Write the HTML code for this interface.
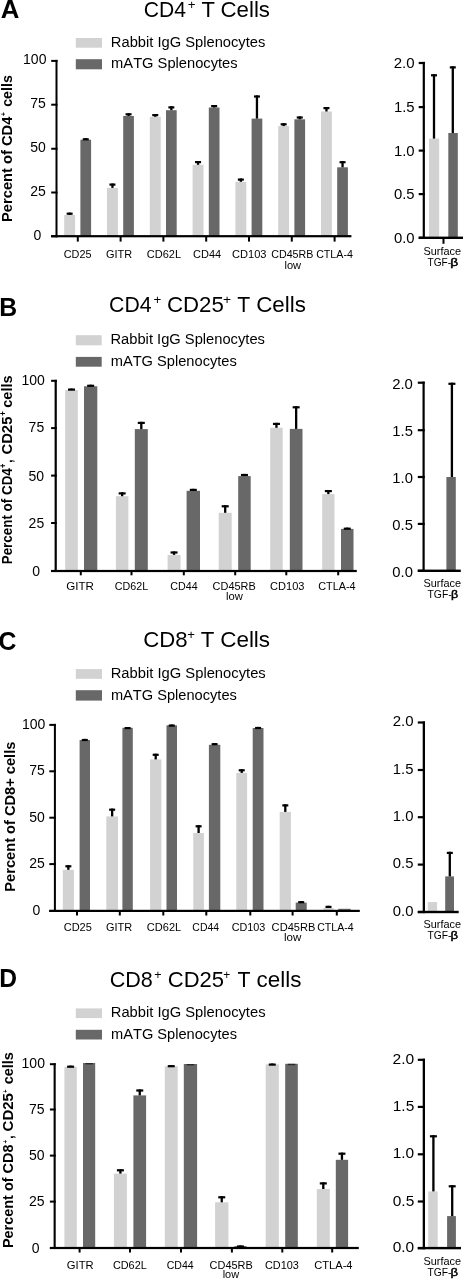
<!DOCTYPE html>
<html><head><meta charset="utf-8"><style>
html,body{margin:0;padding:0;background:#fff;}
svg{display:block;will-change:transform;}
text{font-family:"Liberation Sans",sans-serif;fill:#000;font-kerning:none;}
</style></head><body>
<svg width="463" height="1280" viewBox="0 0 463 1280">
<rect width="463" height="1280" fill="#fff"/>
<rect x="75.80" y="38.00" width="26.20" height="9.70" fill="#d2d2d2"/>
<rect x="75.80" y="59.20" width="26.20" height="10.10" fill="#686868"/>
<rect x="64.20" y="215.00" width="10.90" height="21.20" fill="#d2d2d2"/>
<rect x="80.40" y="139.70" width="10.70" height="96.50" fill="#686868"/>
<rect x="107.00" y="187.90" width="10.90" height="48.30" fill="#d2d2d2"/>
<rect x="123.20" y="116.00" width="10.70" height="120.20" fill="#686868"/>
<rect x="149.80" y="116.80" width="10.90" height="119.40" fill="#d2d2d2"/>
<rect x="166.00" y="110.20" width="10.70" height="126.00" fill="#686868"/>
<rect x="192.60" y="164.80" width="10.90" height="71.40" fill="#d2d2d2"/>
<rect x="208.80" y="107.50" width="10.70" height="128.70" fill="#686868"/>
<rect x="235.40" y="181.80" width="10.90" height="54.40" fill="#d2d2d2"/>
<rect x="251.60" y="118.60" width="10.70" height="117.60" fill="#686868"/>
<rect x="278.20" y="126.10" width="10.90" height="110.10" fill="#d2d2d2"/>
<rect x="294.40" y="119.30" width="10.70" height="116.90" fill="#686868"/>
<rect x="321.00" y="111.50" width="10.90" height="124.70" fill="#d2d2d2"/>
<rect x="337.20" y="167.30" width="10.70" height="68.90" fill="#686868"/>
<rect x="429.00" y="138.60" width="10.20" height="99.20" fill="#d2d2d2"/>
<rect x="448.30" y="133.00" width="9.50" height="104.80" fill="#686868"/>
<rect x="75.80" y="335.20" width="25.90" height="10.10" fill="#d2d2d2"/>
<rect x="75.80" y="356.90" width="25.90" height="9.80" fill="#686868"/>
<rect x="65.20" y="390.10" width="12.60" height="180.90" fill="#d2d2d2"/>
<rect x="84.00" y="386.30" width="13.30" height="184.70" fill="#686868"/>
<rect x="115.90" y="496.20" width="12.50" height="74.80" fill="#d2d2d2"/>
<rect x="134.80" y="429.10" width="13.00" height="141.90" fill="#686868"/>
<rect x="167.60" y="554.90" width="12.90" height="16.10" fill="#d2d2d2"/>
<rect x="186.60" y="490.80" width="13.40" height="80.20" fill="#686868"/>
<rect x="218.70" y="512.80" width="13.00" height="58.20" fill="#d2d2d2"/>
<rect x="238.20" y="476.10" width="12.50" height="94.90" fill="#686868"/>
<rect x="270.20" y="427.80" width="12.50" height="143.20" fill="#d2d2d2"/>
<rect x="289.80" y="428.90" width="12.70" height="142.10" fill="#686868"/>
<rect x="322.20" y="494.10" width="12.30" height="76.90" fill="#d2d2d2"/>
<rect x="341.00" y="528.90" width="12.50" height="42.10" fill="#686868"/>
<rect x="446.40" y="477.00" width="9.40" height="93.80" fill="#686868"/>
<rect x="75.80" y="669.10" width="26.20" height="9.70" fill="#d2d2d2"/>
<rect x="75.80" y="690.20" width="26.20" height="10.40" fill="#686868"/>
<rect x="62.80" y="869.80" width="11.10" height="41.10" fill="#d2d2d2"/>
<rect x="79.60" y="740.00" width="10.40" height="170.90" fill="#686868"/>
<rect x="106.30" y="816.40" width="11.70" height="94.50" fill="#d2d2d2"/>
<rect x="122.40" y="727.80" width="10.40" height="183.10" fill="#686868"/>
<rect x="150.10" y="759.40" width="11.20" height="151.50" fill="#d2d2d2"/>
<rect x="166.50" y="725.30" width="10.50" height="185.60" fill="#686868"/>
<rect x="193.30" y="833.00" width="10.60" height="77.90" fill="#d2d2d2"/>
<rect x="208.90" y="744.80" width="11.40" height="166.10" fill="#686868"/>
<rect x="236.30" y="772.90" width="10.80" height="138.00" fill="#d2d2d2"/>
<rect x="252.70" y="728.00" width="10.80" height="182.90" fill="#686868"/>
<rect x="279.70" y="811.90" width="11.20" height="99.00" fill="#d2d2d2"/>
<rect x="295.70" y="902.60" width="11.00" height="8.30" fill="#686868"/>
<rect x="323.40" y="908.00" width="10.20" height="2.90" fill="#d2d2d2"/>
<rect x="338.20" y="908.80" width="12.40" height="2.10" fill="#686868"/>
<rect x="427.80" y="902.10" width="9.30" height="9.90" fill="#d2d2d2"/>
<rect x="445.20" y="876.40" width="8.80" height="35.60" fill="#686868"/>
<rect x="75.80" y="1008.40" width="26.20" height="9.70" fill="#d2d2d2"/>
<rect x="75.80" y="1029.80" width="26.20" height="9.70" fill="#686868"/>
<rect x="64.40" y="1066.80" width="12.40" height="181.20" fill="#d2d2d2"/>
<rect x="83.00" y="1063.00" width="12.20" height="185.00" fill="#686868"/>
<rect x="113.90" y="1173.60" width="13.00" height="74.40" fill="#d2d2d2"/>
<rect x="133.40" y="1095.40" width="12.70" height="152.60" fill="#686868"/>
<rect x="164.80" y="1066.20" width="12.90" height="181.80" fill="#d2d2d2"/>
<rect x="183.80" y="1064.00" width="13.30" height="184.00" fill="#686868"/>
<rect x="215.10" y="1202.30" width="13.30" height="45.70" fill="#d2d2d2"/>
<rect x="234.30" y="1246.10" width="12.30" height="1.90" fill="#686868"/>
<rect x="265.70" y="1064.30" width="13.10" height="183.70" fill="#d2d2d2"/>
<rect x="285.20" y="1063.80" width="12.60" height="184.20" fill="#686868"/>
<rect x="316.80" y="1189.00" width="13.00" height="59.00" fill="#d2d2d2"/>
<rect x="335.80" y="1159.80" width="12.30" height="88.20" fill="#686868"/>
<rect x="428.20" y="1191.40" width="9.50" height="56.70" fill="#d2d2d2"/>
<rect x="447.10" y="1216.10" width="8.80" height="32.00" fill="#686868"/>
<text x="0.66" y="17.50" font-size="26" font-weight="700" textLength="18.62" lengthAdjust="spacingAndGlyphs">A</text>
<text x="143.83" y="16.50" font-size="22.0" textLength="42.19" lengthAdjust="spacingAndGlyphs">CD4</text>
<text x="187.75" y="8.90" font-size="12.0" textLength="7.81" lengthAdjust="spacingAndGlyphs">+</text>
<text x="201.51" y="16.50" font-size="22.0">T</text>
<text x="220.57" y="16.50" font-size="22.0" textLength="49.43" lengthAdjust="spacingAndGlyphs">Cells</text>
<text x="110.89" y="46.80" font-size="14.0" textLength="154.44" lengthAdjust="spacingAndGlyphs">Rabbit IgG Splenocytes</text>
<text x="111.12" y="68.40" font-size="14.0" textLength="126.51" lengthAdjust="spacingAndGlyphs">mATG Splenocytes</text>
<rect x="55.50" y="59.90" width="2.00" height="177.35" fill="#000"/>
<rect x="51.20" y="59.90" width="6.30" height="2.00" fill="#000"/>
<rect x="51.20" y="103.70" width="6.30" height="2.00" fill="#000"/>
<rect x="51.20" y="147.75" width="6.30" height="2.00" fill="#000"/>
<rect x="51.20" y="191.50" width="6.30" height="2.00" fill="#000"/>
<rect x="51.20" y="235.25" width="6.30" height="2.00" fill="#000"/>
<rect x="51.10" y="235.10" width="300.30" height="2.20" fill="#000"/>
<text x="23.09" y="63.70" font-size="14.0">100</text>
<text x="30.22" y="107.80" font-size="14.0">75</text>
<text x="30.27" y="151.70" font-size="14.0">50</text>
<text x="30.32" y="195.50" font-size="14.0">25</text>
<text x="33.56" y="239.80" font-size="14.0">0</text>
<rect x="76.80" y="236.20" width="2.00" height="5.40" fill="#000"/>
<rect x="119.60" y="236.20" width="2.00" height="5.40" fill="#000"/>
<rect x="162.40" y="236.20" width="2.00" height="5.40" fill="#000"/>
<rect x="205.20" y="236.20" width="2.00" height="5.40" fill="#000"/>
<rect x="248.00" y="236.20" width="2.00" height="5.40" fill="#000"/>
<rect x="290.80" y="236.20" width="2.00" height="5.40" fill="#000"/>
<rect x="333.60" y="236.20" width="2.00" height="5.40" fill="#000"/>
<rect x="68.50" y="212.60" width="2.30" height="2.40" fill="#000"/>
<rect x="66.65" y="212.60" width="6.00" height="2.20" fill="#000"/>
<rect x="84.60" y="138.20" width="2.30" height="1.50" fill="#000"/>
<rect x="82.75" y="138.20" width="6.00" height="2.20" fill="#000"/>
<rect x="111.30" y="183.50" width="2.30" height="4.40" fill="#000"/>
<rect x="109.45" y="183.50" width="6.00" height="2.20" fill="#000"/>
<rect x="127.40" y="113.20" width="2.30" height="2.80" fill="#000"/>
<rect x="125.55" y="113.20" width="6.00" height="2.20" fill="#000"/>
<rect x="154.10" y="114.00" width="2.30" height="2.80" fill="#000"/>
<rect x="152.25" y="114.00" width="6.00" height="2.20" fill="#000"/>
<rect x="170.20" y="106.30" width="2.30" height="3.90" fill="#000"/>
<rect x="168.35" y="106.30" width="6.00" height="2.20" fill="#000"/>
<rect x="196.90" y="161.00" width="2.30" height="3.80" fill="#000"/>
<rect x="195.05" y="161.00" width="6.00" height="2.20" fill="#000"/>
<rect x="213.00" y="105.00" width="2.30" height="2.50" fill="#000"/>
<rect x="211.15" y="105.00" width="6.00" height="2.20" fill="#000"/>
<rect x="239.70" y="178.50" width="2.30" height="3.30" fill="#000"/>
<rect x="237.85" y="178.50" width="6.00" height="2.20" fill="#000"/>
<rect x="255.80" y="95.40" width="2.30" height="23.20" fill="#000"/>
<rect x="253.95" y="95.40" width="6.00" height="2.20" fill="#000"/>
<rect x="282.50" y="123.20" width="2.30" height="2.90" fill="#000"/>
<rect x="280.65" y="123.20" width="6.00" height="2.20" fill="#000"/>
<rect x="298.60" y="116.40" width="2.30" height="2.90" fill="#000"/>
<rect x="296.75" y="116.40" width="6.00" height="2.20" fill="#000"/>
<rect x="325.30" y="107.00" width="2.30" height="4.50" fill="#000"/>
<rect x="323.45" y="107.00" width="6.00" height="2.20" fill="#000"/>
<rect x="341.40" y="161.10" width="2.30" height="6.20" fill="#000"/>
<rect x="339.55" y="161.10" width="6.00" height="2.20" fill="#000"/>
<text x="63.75" y="258.30" font-size="10.8" textLength="27.81" lengthAdjust="spacingAndGlyphs">CD25</text>
<text x="106.05" y="258.30" font-size="10.8" textLength="26.16" lengthAdjust="spacingAndGlyphs">GITR</text>
<text x="146.74" y="258.30" font-size="10.8" textLength="34.33" lengthAdjust="spacingAndGlyphs">CD62L</text>
<text x="193.14" y="258.30" font-size="10.8" textLength="28.08" lengthAdjust="spacingAndGlyphs">CD44</text>
<text x="232.04" y="258.30" font-size="10.8" textLength="34.45" lengthAdjust="spacingAndGlyphs">CD103</text>
<text x="271.26" y="258.30" font-size="10.8" textLength="42.10" lengthAdjust="spacingAndGlyphs">CD45RB</text>
<text x="316.16" y="258.30" font-size="10.8" textLength="36.75" lengthAdjust="spacingAndGlyphs">CTLA-4</text>
<text x="284.45" y="268.50" font-size="10.8" textLength="16.62" lengthAdjust="spacingAndGlyphs">low</text>
<text transform="translate(11.50,0) rotate(-90)" x="-221.98" y="0" font-size="14.5" font-weight="700" textLength="105.36" lengthAdjust="spacingAndGlyphs">Percent of CD4</text>
<text transform="translate(5.90,0) rotate(-90)" x="-115.88" y="0" font-size="8" font-weight="700" textLength="3.84" lengthAdjust="spacingAndGlyphs">+</text>
<text transform="translate(11.50,0) rotate(-90)" x="-106.86" y="0" font-size="14.5" font-weight="700" textLength="31.74" lengthAdjust="spacingAndGlyphs">cells</text>
<rect x="422.70" y="61.90" width="2.20" height="177.00" fill="#000"/>
<rect x="418.70" y="61.90" width="6.20" height="2.20" fill="#000"/>
<rect x="418.70" y="106.00" width="6.20" height="2.20" fill="#000"/>
<rect x="418.70" y="149.50" width="6.20" height="2.20" fill="#000"/>
<rect x="418.70" y="193.00" width="6.20" height="2.20" fill="#000"/>
<rect x="418.70" y="236.70" width="6.20" height="2.20" fill="#000"/>
<rect x="418.70" y="236.60" width="44.30" height="2.40" fill="#000"/>
<text x="393.75" y="68.30" font-size="14.8" textLength="20.84" lengthAdjust="spacingAndGlyphs">2.0</text>
<text x="393.96" y="112.40" font-size="14.8" textLength="20.66" lengthAdjust="spacingAndGlyphs">1.5</text>
<text x="393.92" y="155.90" font-size="14.8" textLength="20.66" lengthAdjust="spacingAndGlyphs">1.0</text>
<text x="393.96" y="199.40" font-size="14.8" textLength="20.66" lengthAdjust="spacingAndGlyphs">0.5</text>
<text x="393.92" y="243.10" font-size="14.8" textLength="20.66" lengthAdjust="spacingAndGlyphs">0.0</text>
<rect x="432.85" y="74.20" width="2.30" height="64.40" fill="#000"/>
<rect x="431.00" y="74.20" width="6.00" height="2.20" fill="#000"/>
<rect x="451.65" y="66.30" width="2.30" height="66.70" fill="#000"/>
<rect x="449.80" y="66.30" width="6.00" height="2.20" fill="#000"/>
<rect x="442.50" y="237.80" width="2.00" height="6.00" fill="#000"/>
<text x="423.50" y="255.00" font-size="10.5" textLength="37.58" lengthAdjust="spacingAndGlyphs">Surface</text>
<text x="427.47" y="265.60" font-size="10.5" textLength="23.58" lengthAdjust="spacingAndGlyphs">TGF-</text>
<text x="450.25" y="265.60" font-size="10.5" textLength="7.89" lengthAdjust="spacingAndGlyphs" stroke="#000" stroke-width="0.45">β</text>
<text x="-0.76" y="315.50" font-size="26" font-weight="700" textLength="17.88" lengthAdjust="spacingAndGlyphs">B</text>
<text x="109.12" y="311.70" font-size="22.0" textLength="42.50" lengthAdjust="spacingAndGlyphs">CD4</text>
<text x="153.45" y="304.00" font-size="12.0" textLength="7.81" lengthAdjust="spacingAndGlyphs">+</text>
<text x="166.97" y="311.70" font-size="22.0" textLength="56.86" lengthAdjust="spacingAndGlyphs">CD25</text>
<text x="223.12" y="304.00" font-size="12.0" textLength="8.17" lengthAdjust="spacingAndGlyphs">+</text>
<text x="237.32" y="311.70" font-size="22.0" textLength="12.96" lengthAdjust="spacingAndGlyphs">T</text>
<text x="256.16" y="311.70" font-size="22.0" textLength="49.75" lengthAdjust="spacingAndGlyphs">Cells</text>
<text x="110.49" y="344.00" font-size="14.0" textLength="154.44" lengthAdjust="spacingAndGlyphs">Rabbit IgG Splenocytes</text>
<text x="110.73" y="365.60" font-size="14.0" textLength="126.10" lengthAdjust="spacingAndGlyphs">mATG Splenocytes</text>
<rect x="54.60" y="379.80" width="2.20" height="192.20" fill="#000"/>
<rect x="51.10" y="379.80" width="5.70" height="2.00" fill="#000"/>
<rect x="51.10" y="427.10" width="5.70" height="2.00" fill="#000"/>
<rect x="51.10" y="474.60" width="5.70" height="2.00" fill="#000"/>
<rect x="51.10" y="522.00" width="5.70" height="2.00" fill="#000"/>
<rect x="51.10" y="570.00" width="5.70" height="2.00" fill="#000"/>
<rect x="51.10" y="569.90" width="305.70" height="2.20" fill="#000"/>
<text x="21.39" y="385.20" font-size="14.0">100</text>
<text x="28.62" y="432.40" font-size="14.0">75</text>
<text x="28.57" y="480.70" font-size="14.0">50</text>
<text x="28.62" y="527.80" font-size="14.0">25</text>
<text x="32.26" y="575.50" font-size="14.0">0</text>
<rect x="70.35" y="388.50" width="2.30" height="1.60" fill="#000"/>
<rect x="68.00" y="388.50" width="7.00" height="2.20" fill="#000"/>
<rect x="89.50" y="384.70" width="2.30" height="1.60" fill="#000"/>
<rect x="87.15" y="384.70" width="7.00" height="2.20" fill="#000"/>
<rect x="121.00" y="492.30" width="2.30" height="3.90" fill="#000"/>
<rect x="118.65" y="492.30" width="7.00" height="2.20" fill="#000"/>
<rect x="140.15" y="421.80" width="2.30" height="7.30" fill="#000"/>
<rect x="137.80" y="421.80" width="7.00" height="2.20" fill="#000"/>
<rect x="172.90" y="551.40" width="2.30" height="3.50" fill="#000"/>
<rect x="170.55" y="551.40" width="7.00" height="2.20" fill="#000"/>
<rect x="192.15" y="488.80" width="2.30" height="2.00" fill="#000"/>
<rect x="189.80" y="488.80" width="7.00" height="2.20" fill="#000"/>
<rect x="224.05" y="505.20" width="2.30" height="7.60" fill="#000"/>
<rect x="221.70" y="505.20" width="7.00" height="2.20" fill="#000"/>
<rect x="243.30" y="473.90" width="2.30" height="2.20" fill="#000"/>
<rect x="240.95" y="473.90" width="7.00" height="2.20" fill="#000"/>
<rect x="275.30" y="422.80" width="2.30" height="5.00" fill="#000"/>
<rect x="272.95" y="422.80" width="7.00" height="2.20" fill="#000"/>
<rect x="295.00" y="406.20" width="2.30" height="22.70" fill="#000"/>
<rect x="292.65" y="406.20" width="7.00" height="2.20" fill="#000"/>
<rect x="327.20" y="490.00" width="2.30" height="4.10" fill="#000"/>
<rect x="324.85" y="490.00" width="7.00" height="2.20" fill="#000"/>
<rect x="346.10" y="527.60" width="2.30" height="1.30" fill="#000"/>
<rect x="343.75" y="527.60" width="7.00" height="2.20" fill="#000"/>
<rect x="79.80" y="571.00" width="2.00" height="4.30" fill="#000"/>
<rect x="130.50" y="571.00" width="2.00" height="4.30" fill="#000"/>
<rect x="182.80" y="571.00" width="2.00" height="4.30" fill="#000"/>
<rect x="234.20" y="571.00" width="2.00" height="4.30" fill="#000"/>
<rect x="285.30" y="571.00" width="2.00" height="4.30" fill="#000"/>
<rect x="337.20" y="571.00" width="2.00" height="4.30" fill="#000"/>
<text x="66.22" y="589.90" font-size="10.8" textLength="27.72" lengthAdjust="spacingAndGlyphs">GITR</text>
<text x="114.86" y="589.90" font-size="10.8" textLength="33.40" lengthAdjust="spacingAndGlyphs">CD62L</text>
<text x="170.26" y="589.90" font-size="10.8" textLength="27.36" lengthAdjust="spacingAndGlyphs">CD44</text>
<text x="212.64" y="589.90" font-size="10.8" textLength="43.13" lengthAdjust="spacingAndGlyphs">CD45RB</text>
<text x="270.14" y="589.90" font-size="10.8" textLength="34.35" lengthAdjust="spacingAndGlyphs">CD103</text>
<text x="318.25" y="589.90" font-size="10.8" textLength="37.37" lengthAdjust="spacingAndGlyphs">CTLA-4</text>
<text x="226.04" y="600.40" font-size="10.8" textLength="16.83" lengthAdjust="spacingAndGlyphs">low</text>
<text transform="translate(11.60,0) rotate(-90)" x="-564.30" y="0" font-size="14.5" font-weight="700" textLength="96.07" lengthAdjust="spacingAndGlyphs">Percent of CD4</text>
<text transform="translate(6.40,0) rotate(-90)" x="-468.02" y="0" font-size="9" font-weight="700" textLength="4.43" lengthAdjust="spacingAndGlyphs">+</text>
<text transform="translate(11.60,0) rotate(-90)" x="-462.81" y="0" font-size="14.5" font-weight="700" textLength="3.30" lengthAdjust="spacingAndGlyphs">,</text>
<text transform="translate(11.60,0) rotate(-90)" x="-454.61" y="0" font-size="14.5" font-weight="700" textLength="38.02" lengthAdjust="spacingAndGlyphs">CD25</text>
<text transform="translate(6.40,0) rotate(-90)" x="-415.73" y="0" font-size="9" font-weight="700" textLength="4.54" lengthAdjust="spacingAndGlyphs">+</text>
<text transform="translate(11.60,0) rotate(-90)" x="-407.77" y="0" font-size="14.5" font-weight="700" textLength="32.37" lengthAdjust="spacingAndGlyphs">cells</text>
<rect x="422.50" y="381.60" width="2.20" height="190.30" fill="#000"/>
<rect x="417.80" y="381.60" width="6.90" height="2.20" fill="#000"/>
<rect x="417.80" y="429.10" width="6.90" height="2.20" fill="#000"/>
<rect x="417.80" y="475.90" width="6.90" height="2.20" fill="#000"/>
<rect x="417.80" y="522.80" width="6.90" height="2.20" fill="#000"/>
<rect x="417.80" y="569.70" width="6.90" height="2.20" fill="#000"/>
<rect x="417.80" y="569.60" width="43.00" height="2.40" fill="#000"/>
<text x="392.15" y="388.50" font-size="14.8" textLength="20.73" lengthAdjust="spacingAndGlyphs">2.0</text>
<text x="392.37" y="436.00" font-size="14.8">1.5</text>
<text x="392.32" y="482.80" font-size="14.8">1.0</text>
<text x="392.37" y="529.70" font-size="14.8">0.5</text>
<text x="392.32" y="576.60" font-size="14.8">0.0</text>
<rect x="450.75" y="382.70" width="2.30" height="94.30" fill="#000"/>
<rect x="448.40" y="382.70" width="7.00" height="2.20" fill="#000"/>
<text x="423.50" y="587.00" font-size="10.5" textLength="37.58" lengthAdjust="spacingAndGlyphs">Surface</text>
<text x="427.47" y="598.10" font-size="10.5" textLength="24.30" lengthAdjust="spacingAndGlyphs">TGF-</text>
<text x="450.94" y="598.10" font-size="10.5" textLength="7.15" lengthAdjust="spacingAndGlyphs" stroke="#000" stroke-width="0.45">β</text>
<text x="-1.62" y="649.80" font-size="26" font-weight="700" textLength="17.89" lengthAdjust="spacingAndGlyphs">C</text>
<text x="143.17" y="646.70" font-size="22.0" textLength="44.39" lengthAdjust="spacingAndGlyphs">CD8</text>
<text x="187.36" y="638.70" font-size="12.0" textLength="7.69" lengthAdjust="spacingAndGlyphs">+</text>
<text x="200.70" y="646.70" font-size="22.0" textLength="13.61" lengthAdjust="spacingAndGlyphs">T</text>
<text x="220.16" y="646.70" font-size="22.0" textLength="49.95" lengthAdjust="spacingAndGlyphs">Cells</text>
<text x="110.69" y="678.20" font-size="14.0" textLength="155.04" lengthAdjust="spacingAndGlyphs">Rabbit IgG Splenocytes</text>
<text x="110.93" y="699.60" font-size="14.0" textLength="125.90" lengthAdjust="spacingAndGlyphs">mATG Splenocytes</text>
<rect x="53.90" y="723.90" width="2.00" height="188.00" fill="#000"/>
<rect x="49.30" y="723.90" width="6.60" height="2.00" fill="#000"/>
<rect x="49.30" y="770.30" width="6.60" height="2.00" fill="#000"/>
<rect x="49.30" y="816.70" width="6.60" height="2.00" fill="#000"/>
<rect x="49.30" y="863.10" width="6.60" height="2.00" fill="#000"/>
<rect x="49.30" y="909.90" width="6.60" height="2.00" fill="#000"/>
<rect x="49.30" y="909.80" width="310.50" height="2.20" fill="#000"/>
<text x="21.89" y="728.60" font-size="14.0">100</text>
<text x="29.32" y="775.20" font-size="14.0">75</text>
<text x="29.27" y="821.60" font-size="14.0">50</text>
<text x="29.32" y="868.00" font-size="14.0">25</text>
<text x="32.56" y="914.80" font-size="14.0">0</text>
<rect x="67.20" y="865.20" width="2.30" height="4.60" fill="#000"/>
<rect x="65.35" y="865.20" width="6.00" height="2.20" fill="#000"/>
<rect x="83.65" y="738.90" width="2.30" height="1.10" fill="#000"/>
<rect x="81.80" y="738.90" width="6.00" height="2.20" fill="#000"/>
<rect x="111.00" y="808.60" width="2.30" height="7.80" fill="#000"/>
<rect x="109.15" y="808.60" width="6.00" height="2.20" fill="#000"/>
<rect x="126.45" y="727.00" width="2.30" height="0.80" fill="#000"/>
<rect x="124.60" y="727.00" width="6.00" height="2.20" fill="#000"/>
<rect x="154.55" y="753.70" width="2.30" height="5.70" fill="#000"/>
<rect x="152.70" y="753.70" width="6.00" height="2.20" fill="#000"/>
<rect x="170.60" y="724.50" width="2.30" height="0.80" fill="#000"/>
<rect x="168.75" y="724.50" width="6.00" height="2.20" fill="#000"/>
<rect x="197.45" y="825.20" width="2.30" height="7.80" fill="#000"/>
<rect x="195.60" y="825.20" width="6.00" height="2.20" fill="#000"/>
<rect x="213.45" y="743.10" width="2.30" height="1.70" fill="#000"/>
<rect x="211.60" y="743.10" width="6.00" height="2.20" fill="#000"/>
<rect x="240.55" y="769.20" width="2.30" height="3.70" fill="#000"/>
<rect x="238.70" y="769.20" width="6.00" height="2.20" fill="#000"/>
<rect x="256.95" y="726.90" width="2.30" height="1.10" fill="#000"/>
<rect x="255.10" y="726.90" width="6.00" height="2.20" fill="#000"/>
<rect x="284.15" y="804.30" width="2.30" height="7.60" fill="#000"/>
<rect x="282.30" y="804.30" width="6.00" height="2.20" fill="#000"/>
<rect x="300.05" y="901.10" width="2.30" height="1.50" fill="#000"/>
<rect x="298.20" y="901.10" width="6.00" height="2.20" fill="#000"/>
<rect x="327.35" y="905.80" width="2.30" height="2.20" fill="#000"/>
<rect x="325.50" y="905.80" width="6.00" height="2.20" fill="#000"/>
<rect x="76.00" y="910.90" width="2.00" height="4.60" fill="#000"/>
<rect x="118.80" y="910.90" width="2.00" height="4.60" fill="#000"/>
<rect x="162.30" y="910.90" width="2.00" height="4.60" fill="#000"/>
<rect x="205.30" y="910.90" width="2.00" height="4.60" fill="#000"/>
<rect x="249.30" y="910.90" width="2.00" height="4.60" fill="#000"/>
<rect x="291.60" y="910.90" width="2.00" height="4.60" fill="#000"/>
<rect x="335.80" y="910.90" width="2.00" height="4.60" fill="#000"/>
<text x="63.74" y="931.30" font-size="10.8" textLength="28.12" lengthAdjust="spacingAndGlyphs">CD25</text>
<text x="106.05" y="931.30" font-size="10.8" textLength="26.16" lengthAdjust="spacingAndGlyphs">GITR</text>
<text x="146.84" y="931.30" font-size="10.8" textLength="34.33" lengthAdjust="spacingAndGlyphs">CD62L</text>
<text x="192.37" y="931.30" font-size="10.8" textLength="26.63" lengthAdjust="spacingAndGlyphs">CD44</text>
<text x="231.75" y="931.30" font-size="10.8">CD103</text>
<text x="271.64" y="931.30" font-size="10.8" textLength="43.75" lengthAdjust="spacingAndGlyphs">CD45RB</text>
<text x="317.16" y="931.30" font-size="10.8" textLength="36.45" lengthAdjust="spacingAndGlyphs">CTLA-4</text>
<text x="284.02" y="940.70" font-size="10.8" textLength="17.35" lengthAdjust="spacingAndGlyphs">low</text>
<text transform="translate(14.80,0) rotate(-90)" x="-891.68" y="0" font-size="14.5" font-weight="700" textLength="150.08" lengthAdjust="spacingAndGlyphs">Percent of CD8+ cells</text>
<rect x="422.70" y="721.40" width="2.30" height="191.70" fill="#000"/>
<rect x="417.80" y="721.40" width="7.20" height="2.20" fill="#000"/>
<rect x="417.80" y="768.90" width="7.20" height="2.20" fill="#000"/>
<rect x="417.80" y="816.10" width="7.20" height="2.20" fill="#000"/>
<rect x="417.80" y="863.50" width="7.20" height="2.20" fill="#000"/>
<rect x="417.80" y="910.90" width="7.20" height="2.20" fill="#000"/>
<rect x="417.80" y="910.80" width="40.90" height="2.40" fill="#000"/>
<text x="392.65" y="726.30" font-size="14.8" textLength="20.84" lengthAdjust="spacingAndGlyphs">2.0</text>
<text x="392.86" y="773.80" font-size="14.8" textLength="20.66" lengthAdjust="spacingAndGlyphs">1.5</text>
<text x="392.82" y="821.00" font-size="14.8" textLength="20.66" lengthAdjust="spacingAndGlyphs">1.0</text>
<text x="392.86" y="868.40" font-size="14.8" textLength="20.66" lengthAdjust="spacingAndGlyphs">0.5</text>
<text x="392.82" y="915.80" font-size="14.8" textLength="20.66" lengthAdjust="spacingAndGlyphs">0.0</text>
<rect x="448.65" y="851.80" width="2.30" height="24.60" fill="#000"/>
<rect x="446.80" y="851.80" width="6.00" height="2.20" fill="#000"/>
<text x="423.50" y="928.30" font-size="10.5" textLength="37.58" lengthAdjust="spacingAndGlyphs">Surface</text>
<text x="427.47" y="939.10" font-size="10.5" textLength="23.99" lengthAdjust="spacingAndGlyphs">TGF-</text>
<text x="450.59" y="939.10" font-size="10.5" textLength="7.52" lengthAdjust="spacingAndGlyphs" stroke="#000" stroke-width="0.45">β</text>
<text x="-0.75" y="986.50" font-size="26" font-weight="700" textLength="17.78" lengthAdjust="spacingAndGlyphs">D</text>
<text x="109.71" y="986.60" font-size="22.0" textLength="43.13" lengthAdjust="spacingAndGlyphs">CD8</text>
<text x="154.29" y="979.30" font-size="12.0" textLength="7.33" lengthAdjust="spacingAndGlyphs">+</text>
<text x="167.78" y="986.60" font-size="22.0">CD25</text>
<text x="223.22" y="979.30" font-size="12.0" textLength="6.97" lengthAdjust="spacingAndGlyphs">+</text>
<text x="237.62" y="986.60" font-size="22.0" textLength="12.96" lengthAdjust="spacingAndGlyphs">T</text>
<text x="256.55" y="986.60" font-size="22.0" textLength="44.86" lengthAdjust="spacingAndGlyphs">cells</text>
<text x="110.79" y="1017.10" font-size="14.0" textLength="154.74" lengthAdjust="spacingAndGlyphs">Rabbit IgG Splenocytes</text>
<text x="111.03" y="1038.60" font-size="14.0" textLength="126.00" lengthAdjust="spacingAndGlyphs">mATG Splenocytes</text>
<rect x="53.60" y="1063.20" width="2.10" height="185.80" fill="#000"/>
<rect x="49.90" y="1063.20" width="5.80" height="2.00" fill="#000"/>
<rect x="49.90" y="1108.50" width="5.80" height="2.00" fill="#000"/>
<rect x="49.90" y="1154.60" width="5.80" height="2.00" fill="#000"/>
<rect x="49.90" y="1200.60" width="5.80" height="2.00" fill="#000"/>
<rect x="49.90" y="1247.00" width="5.80" height="2.00" fill="#000"/>
<rect x="49.90" y="1246.90" width="308.90" height="2.20" fill="#000"/>
<text x="21.59" y="1068.40" font-size="14.0">100</text>
<text x="29.02" y="1113.80" font-size="14.0">75</text>
<text x="28.97" y="1159.90" font-size="14.0">50</text>
<text x="29.02" y="1205.90" font-size="14.0">25</text>
<text x="31.76" y="1252.50" font-size="14.0">0</text>
<rect x="69.45" y="1065.60" width="2.30" height="1.20" fill="#000"/>
<rect x="67.10" y="1065.60" width="7.00" height="2.20" fill="#000"/>
<rect x="85.35" y="1063.00" width="7.50" height="1.40" fill="#2a2a2a"/>
<rect x="119.25" y="1169.20" width="2.30" height="4.40" fill="#000"/>
<rect x="116.90" y="1169.20" width="7.00" height="2.20" fill="#000"/>
<rect x="138.60" y="1089.40" width="2.30" height="6.00" fill="#000"/>
<rect x="136.25" y="1089.40" width="7.00" height="2.20" fill="#000"/>
<rect x="170.10" y="1065.10" width="2.30" height="1.10" fill="#000"/>
<rect x="167.75" y="1065.10" width="7.00" height="2.20" fill="#000"/>
<rect x="186.70" y="1064.00" width="7.50" height="1.40" fill="#2a2a2a"/>
<rect x="220.60" y="1196.20" width="2.30" height="6.10" fill="#000"/>
<rect x="218.25" y="1196.20" width="7.00" height="2.20" fill="#000"/>
<rect x="239.30" y="1245.40" width="2.30" height="0.70" fill="#000"/>
<rect x="236.95" y="1245.40" width="7.00" height="2.20" fill="#000"/>
<rect x="271.10" y="1063.50" width="2.30" height="0.80" fill="#000"/>
<rect x="268.75" y="1063.50" width="7.00" height="2.20" fill="#000"/>
<rect x="287.75" y="1063.80" width="7.50" height="1.40" fill="#2a2a2a"/>
<rect x="322.15" y="1182.30" width="2.30" height="6.70" fill="#000"/>
<rect x="319.80" y="1182.30" width="7.00" height="2.20" fill="#000"/>
<rect x="340.80" y="1152.60" width="2.30" height="7.20" fill="#000"/>
<rect x="338.45" y="1152.60" width="7.00" height="2.20" fill="#000"/>
<rect x="78.60" y="1248.00" width="2.00" height="4.50" fill="#000"/>
<rect x="129.00" y="1248.00" width="2.00" height="4.50" fill="#000"/>
<rect x="180.00" y="1248.00" width="2.00" height="4.50" fill="#000"/>
<rect x="230.90" y="1248.00" width="2.00" height="4.50" fill="#000"/>
<rect x="281.30" y="1248.00" width="2.00" height="4.50" fill="#000"/>
<rect x="331.20" y="1248.00" width="2.00" height="4.50" fill="#000"/>
<text x="66.83" y="1268.60" font-size="10.8" textLength="26.89" lengthAdjust="spacingAndGlyphs">GITR</text>
<text x="112.95" y="1268.60" font-size="10.8" textLength="33.81" lengthAdjust="spacingAndGlyphs">CD62L</text>
<text x="166.76" y="1268.60" font-size="10.8" textLength="26.94" lengthAdjust="spacingAndGlyphs">CD44</text>
<text x="209.64" y="1268.60" font-size="10.8" textLength="43.13" lengthAdjust="spacingAndGlyphs">CD45RB</text>
<text x="264.95" y="1268.60" font-size="10.8" textLength="33.83" lengthAdjust="spacingAndGlyphs">CD103</text>
<text x="314.24" y="1268.60" font-size="10.8" textLength="38.29" lengthAdjust="spacingAndGlyphs">CTLA-4</text>
<text x="222.66" y="1278.40" font-size="10.8" textLength="16.41" lengthAdjust="spacingAndGlyphs">low</text>
<text transform="translate(13.30,0) rotate(-90)" x="-1248.07" y="0" font-size="14.5" font-weight="700" textLength="103.51" lengthAdjust="spacingAndGlyphs">Percent of CD8</text>
<text transform="translate(7.80,0) rotate(-90)" x="-1143.55" y="0" font-size="8" font-weight="700" textLength="3.49" lengthAdjust="spacingAndGlyphs">+</text>
<text transform="translate(13.30,0) rotate(-90)" x="-1139.00" y="0" font-size="14.5" font-weight="700" textLength="3.69" lengthAdjust="spacingAndGlyphs">,</text>
<text transform="translate(13.30,0) rotate(-90)" x="-1131.41" y="0" font-size="14.5" font-weight="700" textLength="38.23" lengthAdjust="spacingAndGlyphs">CD25</text>
<text transform="translate(7.80,0) rotate(-90)" x="-1092.73" y="0" font-size="8" font-weight="700" textLength="3.14" lengthAdjust="spacingAndGlyphs">+</text>
<text transform="translate(13.30,0) rotate(-90)" x="-1084.37" y="0" font-size="14.5" font-weight="700" textLength="32.26" lengthAdjust="spacingAndGlyphs">cells</text>
<rect x="422.70" y="1058.70" width="2.30" height="190.50" fill="#000"/>
<rect x="417.80" y="1058.70" width="7.20" height="2.20" fill="#000"/>
<rect x="417.80" y="1105.80" width="7.20" height="2.20" fill="#000"/>
<rect x="417.80" y="1153.20" width="7.20" height="2.20" fill="#000"/>
<rect x="417.80" y="1200.40" width="7.20" height="2.20" fill="#000"/>
<rect x="417.80" y="1247.00" width="7.20" height="2.20" fill="#000"/>
<rect x="417.80" y="1246.90" width="43.20" height="2.40" fill="#000"/>
<text x="392.52" y="1063.80" font-size="14.8" textLength="21.69" lengthAdjust="spacingAndGlyphs">2.0</text>
<text x="392.74" y="1110.90" font-size="14.8" textLength="21.51" lengthAdjust="spacingAndGlyphs">1.5</text>
<text x="392.70" y="1158.30" font-size="14.8" textLength="21.51" lengthAdjust="spacingAndGlyphs">1.0</text>
<text x="392.74" y="1205.50" font-size="14.8" textLength="21.51" lengthAdjust="spacingAndGlyphs">0.5</text>
<text x="392.70" y="1252.10" font-size="14.8" textLength="21.51" lengthAdjust="spacingAndGlyphs">0.0</text>
<rect x="432.25" y="1135.20" width="2.30" height="56.20" fill="#000"/>
<rect x="429.90" y="1135.20" width="7.00" height="2.20" fill="#000"/>
<rect x="451.05" y="1185.20" width="2.30" height="30.90" fill="#000"/>
<rect x="448.70" y="1185.20" width="7.00" height="2.20" fill="#000"/>
<text x="423.50" y="1264.70" font-size="10.5" textLength="37.58" lengthAdjust="spacingAndGlyphs">Surface</text>
<text x="427.47" y="1275.60" font-size="10.5" textLength="23.99" lengthAdjust="spacingAndGlyphs">TGF-</text>
<text x="450.59" y="1275.60" font-size="10.5" textLength="7.52" lengthAdjust="spacingAndGlyphs" stroke="#000" stroke-width="0.45">β</text>
</svg>
</body></html>
